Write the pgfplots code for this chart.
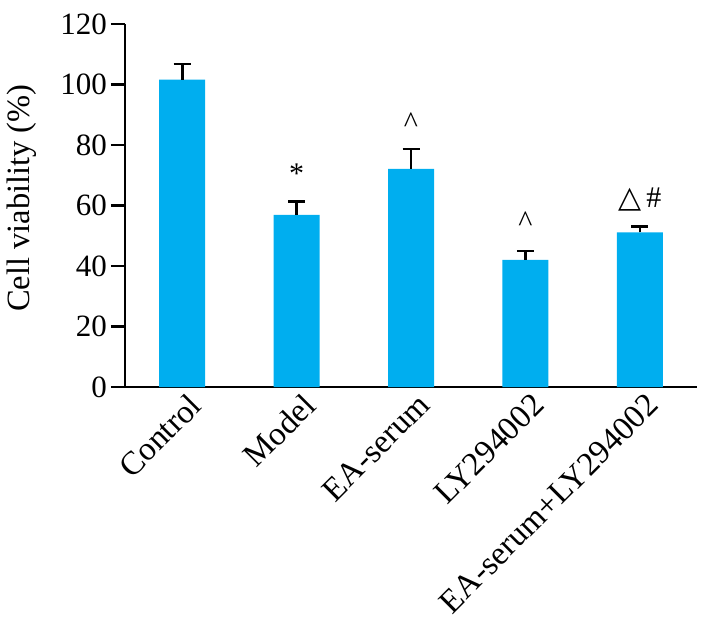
\documentclass[border=0pt]{standalone}
\usepackage{pgfplots}
\pgfplotsset{compat=1.18}
\usepackage{fontspec}
\setmainfont{Liberation Serif}
\newfontfamily\dejavu{DejaVu Sans}
\definecolor{barblue}{RGB}{0,174,239}
\begin{document}
\begin{tikzpicture}
\begin{axis}[
  scale only axis, width=572pt, height=363pt,
  xmin=-0.5, xmax=4.5, ymin=0, ymax=120,
  axis lines*=left,
  axis line style={line width=2.8pt, black},
  ytick={0,20,...,120},
  xtick={0,...,4},
  xticklabels={Control,Model,EA-serum,LY294002,EA-serum+LY294002},
  x tick label style={xshift=5pt, yshift=11pt, rotate=45, anchor=north east, font=\fontsize{33}{37}\selectfont, inner sep=1pt},
  y tick label style={font=\fontsize{31}{35}\selectfont, inner sep=4pt},
  /pgf/number format/assume math mode=true,
  ylabel={Cell viability (\%)},
  ylabel style={font=\fontsize{32.5}{36}\selectfont, at={(axis description cs:-0.154,0.52)}, anchor=south, inner sep=0pt},
  tick align=outside,
  major tick length=14pt,
  ytick style={line width=2.5pt, black},
  xtick style={draw=none},
  clip=false,
]
\addplot[ybar, bar width=46pt, fill=barblue, draw=none,
  error bars/.cd, y dir=plus, y explicit,
  error bar style={line width=2.6pt, black},
  error mark options={rotate=90, mark size=8.5pt, line width=2.6pt, black}]
  table[x=x, y=y, y error=e] {
x y e
0 101.6 5.2
1 56.9 4.5
2 72.1 6.6
3 42.0 2.9
4 51.1 2.0
};
\node[font=\fontsize{30}{34}\selectfont] at (axis cs:1,70.5) {*};
\node[font=\fontsize{30}{34}\selectfont] at (axis cs:2,87.5) {\textasciicircum};
\node[font=\fontsize{30}{34}\selectfont] at (axis cs:3,54.6) {\textasciicircum};
\node[font=\fontsize{30}{34}\selectfont] at (axis cs:4,62.0) {{\dejavu △}\,\#};
\end{axis}
\pgfresetboundingbox
\path[use as bounding box] (-125pt,-234pt) rectangle (578pt,387pt);
\end{tikzpicture}
\end{document}
